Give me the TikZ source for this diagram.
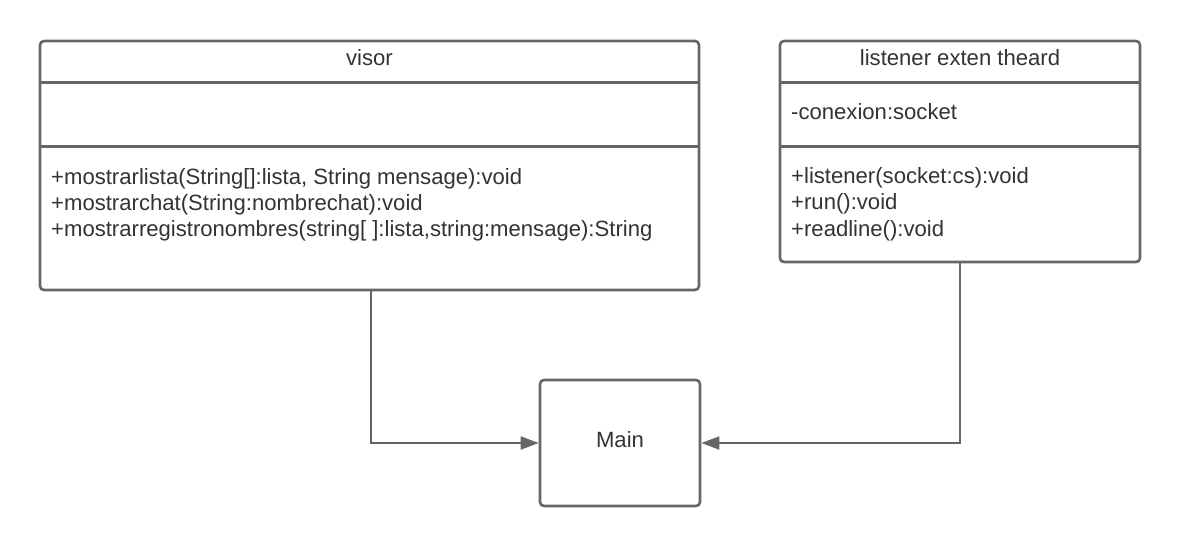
\documentclass[tikz,border=0pt]{standalone}
\usepackage{fontspec}
\setmainfont{Liberation Sans}
\usetikzlibrary{arrows.meta}
\definecolor{lineg}{HTML}{666666}
\definecolor{txtg}{HTML}{333333}
\begin{document}
\begin{tikzpicture}[x=1pt,y=-1pt,
  umlbox/.style={draw=lineg, line width=2.6pt, rounded corners=4pt, fill=white, inner sep=0pt, rectangle},
  divider/.style={draw=lineg, line width=2.6pt},
  txt/.style={text=txtg, font=\fontsize{22.1}{26}\selectfont, inner sep=0pt},
  conn/.style={draw=lineg, line width=1.8pt, -{Triangle[length=18pt,width=13pt]}}]
\useasboundingbox[fill=white] (0,0) rectangle (1180,546);
% boxes
\node[umlbox, minimum width=659pt, minimum height=249pt] (visor) at (369.5,165.5) {};
\node[umlbox, minimum width=360pt, minimum height=221pt] (listener) at (960,151.5) {};
\node[umlbox, minimum width=160pt, minimum height=126pt] (main) at (620,443) {};
% dividers
\draw[divider] (visor.west |- 0,82.5) -- (visor.east |- 0,82.5);
\draw[divider] (visor.west |- 0,146.5) -- (visor.east |- 0,146.5);
\draw[divider] (listener.west |- 0,82.5) -- (listener.east |- 0,82.5);
\draw[divider] (listener.west |- 0,146.5) -- (listener.east |- 0,146.5);
% texts
\node[txt, anchor=base] (vt) at (visor.north |- 0,65) {visor};
\node[txt, anchor=base west] (v1) at (51,184) {+mostrarlista(String[]:lista, String mensage):void};
\node[txt, anchor=base west] (v2) at (51,210) {+mostrarchat(String:nombrechat):void};
\node[txt, anchor=base west] (v3) at (51,236) {+mostrarregistronombres(string[ ]:lista,string:mensage):String};
\node[txt, anchor=base] (lt) at (listener.north |- 0,65) {listener exten theard};
\node[txt, anchor=base west] (la) at (791,119) {-conexion:socket};
\node[txt, anchor=base west] (l1) at (791,183) {+listener(socket:cs):void};
\node[txt, anchor=base west] (l2) at (791,209.5) {+run():void};
\node[txt, anchor=base west] (l3) at (791,236) {+readline():void};
\node[txt, anchor=base] (mt) at (main.center |- 0,447) {Main};
% connectors
\draw[conn] ([xshift=1.5pt]visor.south) |- (main.west);
\draw[conn] (listener.south) |- (main.east);
\end{tikzpicture}
\end{document}
